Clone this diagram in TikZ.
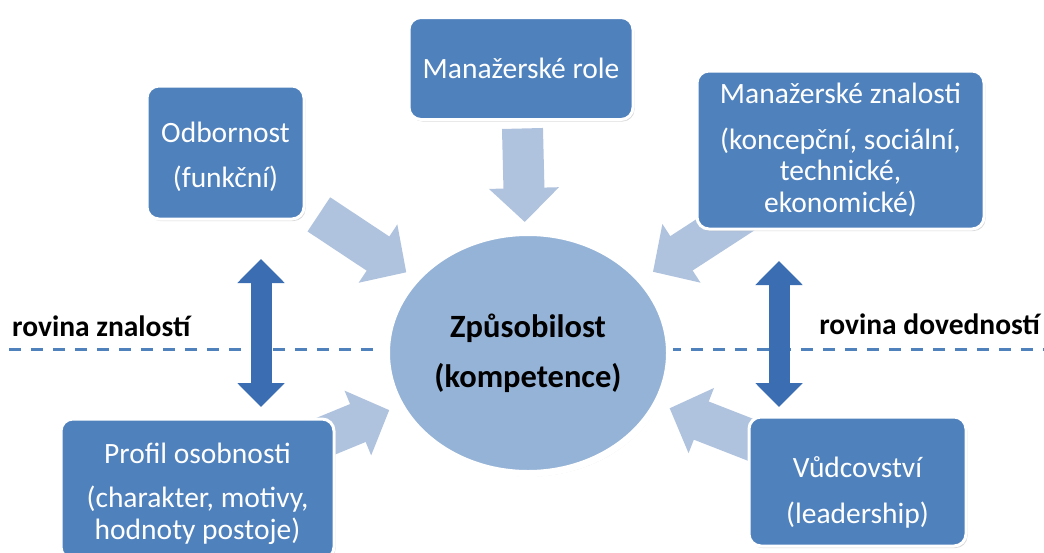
\documentclass[tikz,border=0pt]{standalone}
\usepackage{fontspec}
\setmainfont{Carlito}
\usetikzlibrary{arrows.meta,shadows,shapes.geometric,backgrounds}
\definecolor{boxblue}{HTML}{4F81BD}
\definecolor{ellblue}{HTML}{95B3D7}
\definecolor{arrblue}{HTML}{B0C3DE}
\definecolor{dblblue}{HTML}{3A6DB2}

\begin{document}
\begin{tikzpicture}[x=1pt,y=-1pt,
    box/.style={rectangle,rounded corners=12pt,fill=boxblue,draw=white,line width=3pt,
      text=white,align=center,inner sep=0pt,font=\fontsize{29.5}{31.5}\selectfont,
      drop shadow={shadow xshift=1.5pt,shadow yshift=-2pt,opacity=0.3}},
    komp/.style={ellipse,fill=ellblue,draw=white,line width=7pt,align=center,
      minimum width=283pt,minimum height=241pt,inner sep=0pt,
      font=\bfseries\fontsize{32.5}{50}\selectfont,
      drop shadow={shadow xshift=1.5pt,shadow yshift=-3pt,opacity=0.3}},
    lbl/.style={inner sep=0pt,font=\bfseries\fontsize{29.5}{30}\selectfont},
    blockarr/.style={draw=arrblue,line width=41pt,-{Triangle[length=34pt,width=68pt]}},
    dblarr/.style={draw=dblblue,line width=21pt,
      {Triangle[length=24pt,width=46pt]}-{Triangle[length=24pt,width=46pt]}},
    plane/.style={draw=boxblue,line width=3pt,dash pattern=on 12pt off 10pt}]
  \useasboundingbox (0,0) rectangle (1044,552);

  \path
  (521,68.5) node[box,minimum width=224pt,minimum height=102pt](role) {Manažerské role}
  (225.5,152.5) node[box,minimum width=157pt,minimum height=133pt](odb)
    {\rule{0pt}{29pt}Odbornost\\[14pt](funkční)}
  (840.5,150) node[box,minimum width=287pt,minimum height=158pt](znal)
    {Manažerské znalosti\\[14pt](koncepční, sociální,\\technické,\\ekonomické)}
  (197.5,489) node[box,minimum width=273pt,minimum height=140pt](prof)
    {\rule{0pt}{30pt}Profil osobnosti\\[13pt](charakter, motivy,\\hodnoty postoje)}
  (857.5,481.5) node[box,minimum width=217pt,minimum height=129pt](vud)
    {\rule{0pt}{43pt}Vůdcovství\\[14pt](leadership)}
  (528,353) node[komp](zpu) {Způsobilost\\(kompetence)}
  ;

  \path
  (12,336) node[lbl,anchor=base west](zn) {rovina znalostí}
  (1040,334) node[lbl,anchor=base east](dov) {rovina dovedností}
  ;

  \coordinate (ll) at (9,349);
  \coordinate (lr) at (1044,349);
  \coordinate (at) at (261,259);
  \coordinate (ab) at (261,407);
  \coordinate (bt) at (779,261);
  \coordinate (bb) at (779,407);

  \begin{scope}[on background layer]
    \draw[plane] (ll) -- (lr);
    \draw[blockarr,shorten <=60pt,shorten >=131pt] (role.center) -- (zpu.center);
    \draw[blockarr,shorten <=112pt,shorten >=146pt] (odb.center) -- (zpu.center);
    \draw[blockarr,shorten >=149pt] (znal.center) -- (zpu.center);
    \draw[blockarr,shorten >=150pt] (prof.center) -- (zpu.center);
    \draw[blockarr,shorten >=152pt] (vud.center) -- (zpu.center);
  \end{scope}

  \draw[dblarr] (at) -- (ab);
  \draw[dblarr] (bt) -- (bb);
\end{tikzpicture}
\end{document}
